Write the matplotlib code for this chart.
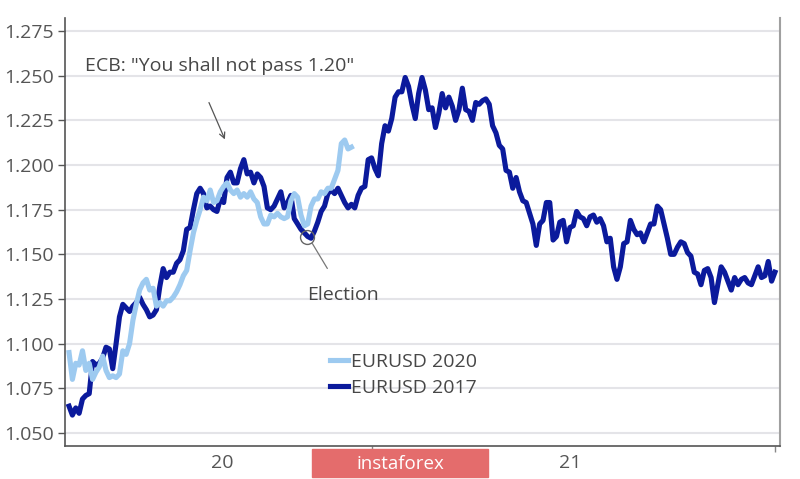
import matplotlib
matplotlib.use("Agg")
import matplotlib.pyplot as plt
from matplotlib.patches import Rectangle

plt.rcParams['font.family'] = ['Open Sans', 'DejaVu Sans']

# EURUSD 2017, aligned on the same trading-day index as 2020
eurusd_2017 = [
    1.065, 1.060, 1.064, 1.061, 1.069, 1.071, 1.072, 1.090, 1.088, 1.089,
    1.092, 1.098, 1.097, 1.086, 1.100, 1.115, 1.122, 1.120, 1.118, 1.121,
    1.123, 1.126, 1.122, 1.119, 1.115, 1.116, 1.119, 1.132, 1.142, 1.137,
    1.140, 1.140, 1.145, 1.147, 1.152, 1.164, 1.165, 1.175, 1.184, 1.187,
    1.184, 1.176, 1.177, 1.175, 1.174, 1.181, 1.179, 1.193, 1.196, 1.190,
    1.190, 1.198, 1.203, 1.195, 1.196, 1.190, 1.195, 1.193, 1.188, 1.176,
    1.175, 1.177, 1.181, 1.185, 1.176, 1.179, 1.183, 1.170, 1.167, 1.164,
    1.162, 1.160, 1.159, 1.163, 1.168, 1.174, 1.177, 1.184, 1.186, 1.184,
    1.187, 1.183, 1.179, 1.176, 1.178, 1.176, 1.183, 1.187, 1.188,
    1.203, 1.204, 1.198, 1.194, 1.212, 1.222, 1.219, 1.226, 1.238, 1.241,
    1.241,
    1.249, 1.244, 1.234, 1.226, 1.240, 1.249, 1.242, 1.231, 1.232, 1.221,
    1.229, 1.240, 1.232, 1.238, 1.233, 1.225, 1.231, 1.243, 1.231, 1.230,
    1.225, 1.235, 1.234, 1.236, 1.237, 1.234, 1.222, 1.218, 1.211, 1.209,
    1.197, 1.196, 1.187, 1.193, 1.185, 1.180, 1.179, 1.173, 1.167, 1.155,
    1.167, 1.169, 1.179, 1.179, 1.158, 1.160, 1.168, 1.169, 1.157, 1.165,
    1.166, 1.174, 1.171, 1.170, 1.166, 1.171, 1.172, 1.168, 1.170, 1.166,
    1.157, 1.159, 1.143, 1.136, 1.143, 1.156, 1.157, 1.169, 1.164, 1.161,
    1.162, 1.157, 1.162, 1.167, 1.167, 1.177, 1.175, 1.167, 1.159, 1.150,
    1.150, 1.154, 1.157, 1.156, 1.151, 1.149, 1.140, 1.139, 1.133, 1.141,
    1.142, 1.137, 1.123, 1.133, 1.143, 1.140, 1.135, 1.130, 1.137, 1.133,
    1.136, 1.137, 1.134, 1.133, 1.138, 1.143, 1.137, 1.138, 1.146, 1.135,
    1.140,
]

eurusd_2020 = [
    1.095, 1.080, 1.089, 1.088, 1.096, 1.085, 1.089, 1.080, 1.084, 1.087,
    1.093, 1.085, 1.081, 1.082, 1.081, 1.083, 1.096, 1.094, 1.100, 1.113,
    1.122, 1.130, 1.134, 1.136, 1.130, 1.131, 1.121, 1.123, 1.121, 1.124,
    1.124, 1.126, 1.129, 1.133, 1.138, 1.141, 1.152, 1.162, 1.169, 1.175,
    1.182, 1.180, 1.186, 1.179, 1.180, 1.185, 1.188, 1.190, 1.186, 1.184,
    1.186, 1.182, 1.184, 1.182, 1.185, 1.181, 1.179, 1.171, 1.167, 1.167,
    1.172, 1.171, 1.173, 1.171, 1.170, 1.171, 1.180, 1.184, 1.182, 1.172,
    1.166, 1.167, 1.177, 1.181, 1.181, 1.185, 1.184, 1.187, 1.187, 1.192,
    1.197, 1.212, 1.214, 1.209, 1.210,
]

y_ticks = [1.050, 1.075, 1.100, 1.125, 1.150, 1.175, 1.200, 1.225, 1.250, 1.275]
x_labels = ["20", "21"]

DARK = "#0b1a9c"
LIGHT = "#9dcaf0"
GREY = "#555555"
TEXT = "#474747"

fig = plt.figure(figsize=(8, 4.79), dpi=100)
ax = fig.add_axes([0.08125, 0.0689, 0.89375, 0.8935])

ax.plot(range(len(eurusd_2017)), eurusd_2017, color=DARK, lw=3.7,
        solid_joinstyle="round", label="EURUSD 2017", zorder=3)
ax.plot(range(len(eurusd_2020)), eurusd_2020, color=LIGHT, lw=3.7,
        solid_joinstyle="round", label="EURUSD 2020", zorder=4)

ax.set_xlim(-1.2, 211.5)
ax.set_ylim(1.0427, 1.2823)

ax.set_yticks(y_ticks)
ax.set_yticklabels([f"{v:.3f}" for v in y_ticks])
ax.yaxis.grid(True, color="#e4e4e8", lw=1.5)
ax.set_axisbelow(True)

# year boundaries as ticks, labels centred between them
ax.set_xticks([90.1, 210])
ax.set_xticklabels(["", ""])
ax.set_xticks([45.5, 149.0], minor=True)
ax.set_xticklabels(x_labels, minor=True)
ax.tick_params(axis="x", which="major", length=4, color="#888888", width=1)
ax.tick_params(axis="x", which="minor", length=0, pad=6, labelsize=14, labelcolor=GREY)
ax.tick_params(axis="y", length=5, width=1, color=GREY, pad=3, labelsize=14, labelcolor=GREY)

ax.spines["top"].set_visible(False)
ax.spines["left"].set_color(GREY)
ax.spines["left"].set_linewidth(1.2)
ax.spines["bottom"].set_color(GREY)
ax.spines["bottom"].set_linewidth(1.2)
ax.spines["right"].set_color("#a0a0a0")
ax.spines["right"].set_linewidth(1.5)

# annotations
ax.text(4.76, 1.2554, 'ECB: "You shall not pass 1.20"', fontsize=14,
        color=TEXT, va="center", ha="left")
ax.annotate("", xy=(46.7, 1.2129), xytext=(41.3, 1.2364),
            arrowprops=dict(arrowstyle="->", color=GREY, lw=0.9))

ax.plot([70.8], [1.1595], marker="o", ms=10, mfc="none", mec="#666666", mew=1.0, zorder=5)
ax.annotate("Election", xy=(72.4, 1.1560), xytext=(81.5, 1.1275),
            fontsize=14, color=TEXT, ha="center", va="center",
            arrowprops=dict(arrowstyle="-", color="#777777", lw=0.9,
                            shrinkA=12, shrinkB=0))

handles, labels = ax.get_legend_handles_labels()
leg = ax.legend(handles[::-1], labels[::-1], loc="upper left",
                bbox_to_anchor=(330 / 800, (479 - 353) / 479),
                bbox_transform=fig.transFigure, frameon=False,
                fontsize=14, handlelength=0.95, handletextpad=0.15,
                labelspacing=0.4, borderpad=0, borderaxespad=0)
for t in leg.get_texts():
    t.set_color(TEXT)

# watermark band at the bottom
fig.patches.append(Rectangle((312 / 800, 2 / 479), 176 / 800, 28 / 479,
                             transform=fig.transFigure, color="#e46c6c", zorder=10))
fig.text(400 / 800, (479 - 464) / 479, "instaforex", color="white", fontsize=13.5,
         ha="center", va="center", zorder=11)

fig.savefig("out.png", dpi=100)
